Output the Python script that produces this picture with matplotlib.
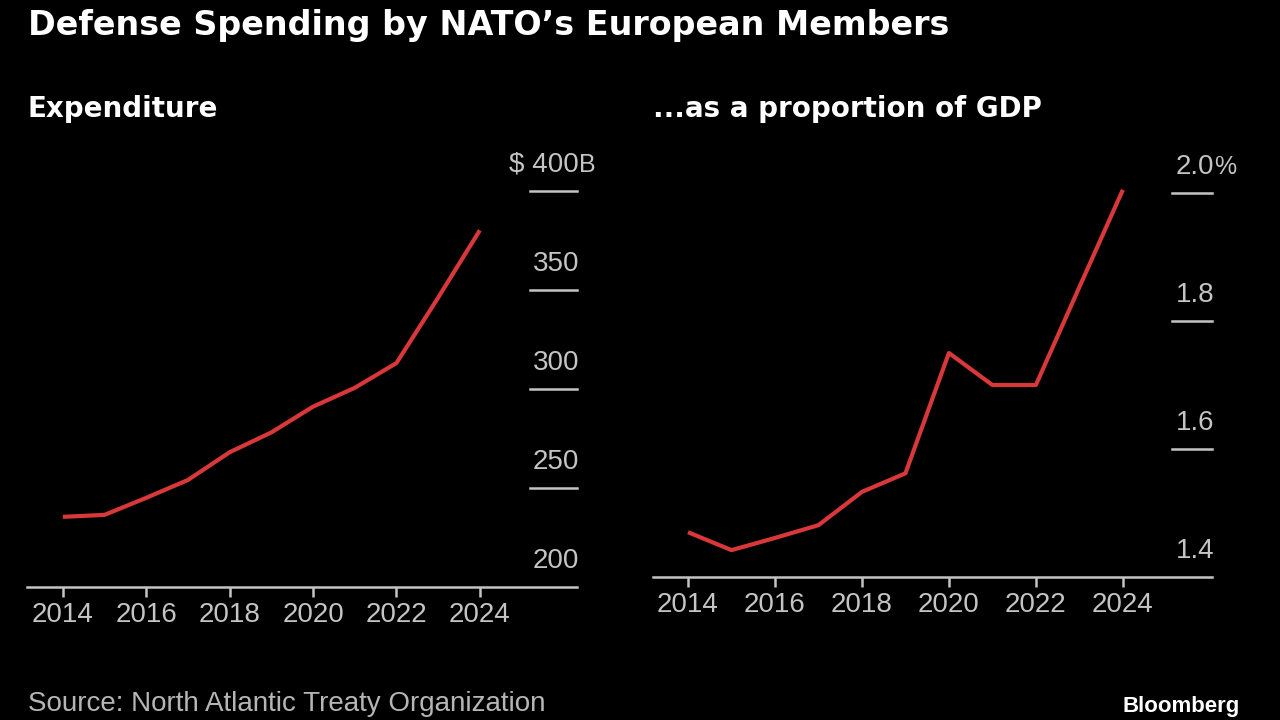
import matplotlib
matplotlib.use("Agg")
import matplotlib.pyplot as plt
import matplotlib.transforms as mtransforms

years = [2014, 2015, 2016, 2017, 2018, 2019, 2020, 2021, 2022, 2023, 2024]
spend = [235.4, 236.4, 245, 254, 268, 278, 291, 300.5, 313, 346, 380]
gdp_share = [1.47, 1.442, 1.461, 1.481, 1.533, 1.562, 1.75, 1.70, 1.70, 1.853, 2.005]

xticks = [2014, 2016, 2018, 2020, 2022, 2024]
spend_ticks = [200, 250, 300, 350, 400]
gdp_ticks = [1.4, 1.6, 1.8, 2.0]
spend_labels = ["200", "250", "300", "350", "$ 400"]
gdp_labels = ["1.4", "1.6", "1.8", "2.0"]

RED = "#d8383a"
GRAY = "#c4c4c4"
BG = "#000000"
W, H = 1280, 720
FS = 20

fig = plt.figure(figsize=(12.8, 7.2), dpi=100, facecolor=BG)


def px_axes(x0, x1, y_bottom, y_top):
    return fig.add_axes([x0 / W, 1 - y_bottom / H, (x1 - x0) / W, (y_bottom - y_top) / H])


def style(ax, xlim, ylim, ticks, labels, unit, stub_frac):
    ax.set_facecolor(BG)
    ax.set_xlim(*xlim)
    ax.set_ylim(*ylim)
    for s in ["left", "right", "top"]:
        ax.spines[s].set_visible(False)
    ax.spines["bottom"].set_color(GRAY)
    ax.spines["bottom"].set_linewidth(1.8)
    ax.set_yticks([])
    ax.set_xticks(xticks)
    ax.set_xticklabels([str(t) for t in xticks], fontsize=FS,
                       color=GRAY, family="Liberation Sans")
    ax.tick_params(axis="x", colors=GRAY, length=7, width=1.8, pad=4,
                   labelcolor=GRAY)
    tr = mtransforms.blended_transform_factory(ax.transAxes, ax.transData)
    for v in ticks[1:]:
        ax.plot([1 - stub_frac, 1.0], [v, v], color=GRAY, lw=1.8,
                transform=tr, clip_on=False)
    for i, (v, lab) in enumerate(zip(ticks, labels)):
        off = mtransforms.offset_copy(tr, fig=fig, x=1.5, y=13.5, units="points")
        ax.text(1.0, v, lab, ha="right", va="baseline", fontsize=FS,
                color=GRAY, family="Liberation Sans", transform=off,
                clip_on=False)
        if i == len(ticks) - 1:
            ax.text(1.0, v, unit, ha="left", va="baseline", fontsize=FS - 2,
                    color=GRAY, family="Liberation Sans", transform=off,
                    clip_on=False)


# left: expenditure
ax1 = px_axes(27, 577, 587, 151)
ax1.plot(years, spend, color=RED, lw=3, solid_capstyle="butt")
style(ax1, (2013.14, 2026.33), (200, 420), spend_ticks, spend_labels, "B", 47 / 550)

# right: share of GDP
ax2 = px_axes(653, 1212, 577, 161)
ax2.plot(years, gdp_share, color=RED, lw=3, solid_capstyle="butt")
style(ax2, (2013.195, 2026.05), (1.4, 2.05), gdp_ticks, gdp_labels, "%", 40 / 559)

fig.text(28 / W, 1 - 9 / H, "Defense Spending by NATO\u2019s European Members",
         ha="left", va="top", fontsize=24, fontweight="bold", color="white",
         family="DejaVu Sans")
fig.text(28 / W, 1 - 95 / H, "Expenditure", ha="left", va="top", fontsize=20,
         fontweight="bold", color="white", family="DejaVu Sans")
fig.text(653 / W, 1 - 95 / H, "...as a proportion of GDP", ha="left", va="top",
         fontsize=20, fontweight="bold", color="white", family="DejaVu Sans")
fig.text(28 / W, 1 - 717 / H, "Source: North Atlantic Treaty Organization",
         ha="left", va="bottom", fontsize=20, color="#b5b5b5", family="Liberation Sans")
fig.text(1240 / W, 1 - 717 / H, "Bloomberg", ha="right", va="bottom", fontsize=16,
         fontweight="bold", color="white", family="Liberation Sans")

fig.savefig("out.png", dpi=100, facecolor=BG)
